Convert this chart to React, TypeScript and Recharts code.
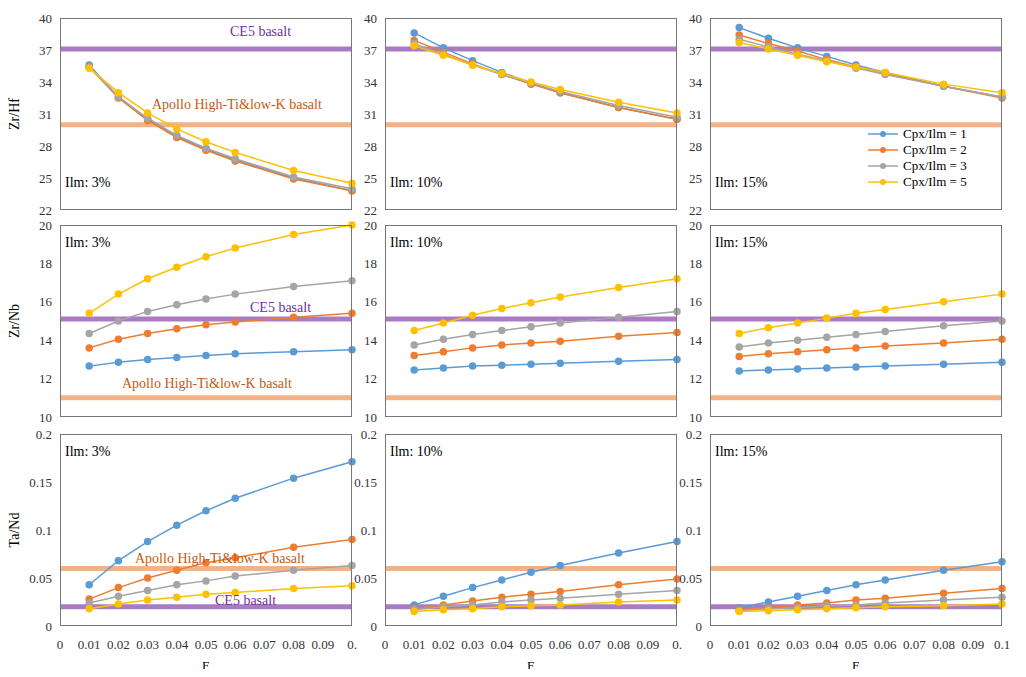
import { LineChart, Line, XAxis, YAxis, ReferenceLine } from "recharts";

const F = [0.01, 0.02, 0.03, 0.04, 0.05, 0.06, 0.08, 0.1];
const seriesNames = ["Cpx/Ilm = 1", "Cpx/Ilm = 2", "Cpx/Ilm = 3", "Cpx/Ilm = 5"];
const colors = ["#5b9bd5", "#ed7d31", "#a5a5a5", "#ffc000"];
const ilmLabels = ["Ilm: 3%", "Ilm: 10%", "Ilm: 15%"];
const xTicks = [0, 0.01, 0.02, 0.03, 0.04, 0.05, 0.06, 0.07, 0.08, 0.09, 0.1];

// Zr/Hf
const zrHf3 = [
  [35.6, 32.6, 30.5, 28.9, 27.7, 26.7, 25.0, 23.8],
  [35.4, 32.5, 30.4, 28.8, 27.6, 26.6, 24.9, 23.8],
  [35.4, 32.6, 30.6, 29.0, 27.8, 26.8, 25.1, 24.0],
  [35.3, 33.0, 31.1, 29.6, 28.4, 27.4, 25.7, 24.5],
];
const zrHf10 = [
  [38.6, 37.2, 36.0, 34.9, 33.9, 33.0, 31.6, 30.5],
  [37.9, 36.8, 35.7, 34.7, 33.8, 33.0, 31.6, 30.5],
  [37.6, 36.6, 35.6, 34.7, 33.9, 33.1, 31.8, 30.7],
  [37.4, 36.5, 35.6, 34.8, 34.0, 33.3, 32.1, 31.1],
];
const zrHf15 = [
  [39.1, 38.1, 37.2, 36.4, 35.6, 34.9, 33.6, 32.6],
  [38.4, 37.6, 36.9, 36.1, 35.4, 34.8, 33.6, 32.5],
  [38.0, 37.3, 36.6, 36.0, 35.3, 34.7, 33.6, 32.6],
  [37.7, 37.1, 36.5, 35.9, 35.4, 34.9, 33.8, 33.0],
];
// Zr/Nb
const zrNb3 = [
  [12.65, 12.85, 13.0, 13.1, 13.2, 13.3, 13.4, 13.5],
  [13.6, 14.05, 14.35, 14.6, 14.8, 14.95, 15.2, 15.4],
  [14.35, 15.0, 15.5, 15.85, 16.15, 16.4, 16.8, 17.1],
  [15.4, 16.4, 17.2, 17.8, 18.35, 18.8, 19.5, 20.0],
];
const zrNb10 = [
  [12.45, 12.55, 12.65, 12.7, 12.75, 12.8, 12.9, 13.0],
  [13.2, 13.4, 13.6, 13.75, 13.85, 13.95, 14.2, 14.4],
  [13.75, 14.05, 14.3, 14.5, 14.7, 14.9, 15.2, 15.5],
  [14.5, 14.9, 15.3, 15.65, 15.95, 16.25, 16.75, 17.2],
];
const zrNb15 = [
  [12.4, 12.45, 12.5, 12.55, 12.6, 12.65, 12.75, 12.85],
  [13.15, 13.3, 13.4, 13.5, 13.6, 13.7, 13.85, 14.05],
  [13.65, 13.85, 14.0, 14.15, 14.3, 14.45, 14.75, 15.0],
  [14.35, 14.65, 14.9, 15.15, 15.4, 15.6, 16.0, 16.4],
];
// Ta/Nd
const taNd3 = [
  [0.043, 0.068, 0.088, 0.105, 0.12, 0.133, 0.154, 0.171],
  [0.028, 0.04, 0.05, 0.058, 0.066, 0.071, 0.082, 0.09],
  [0.024, 0.031, 0.037, 0.043, 0.047, 0.052, 0.058, 0.063],
  [0.018, 0.023, 0.027, 0.03, 0.033, 0.035, 0.039, 0.042],
];
const taNd10 = [
  [0.022, 0.031, 0.04, 0.048, 0.056, 0.063, 0.076, 0.088],
  [0.018, 0.022, 0.026, 0.03, 0.033, 0.036, 0.043, 0.049],
  [0.017, 0.02, 0.022, 0.025, 0.027, 0.029, 0.033, 0.037],
  [0.015, 0.017, 0.018, 0.02, 0.021, 0.022, 0.025, 0.027],
];
const taNd15 = [
  [0.019, 0.025, 0.031, 0.037, 0.043, 0.048, 0.058, 0.067],
  [0.017, 0.019, 0.022, 0.024, 0.027, 0.029, 0.034, 0.039],
  [0.016, 0.018, 0.019, 0.021, 0.022, 0.024, 0.027, 0.03],
  [0.015, 0.016, 0.017, 0.018, 0.019, 0.02, 0.021, 0.023],
];

const rows = [
  { name: "Zr/Hf", domain: [22, 40], ticks: [22, 25, 28, 31, 34, 37, 40], ce5: 37.1, apollo: 30, data: [zrHf3, zrHf10, zrHf15] },
  { name: "Zr/Nb", domain: [10, 20], ticks: [10, 12, 14, 16, 18, 20], ce5: 15.1, apollo: 11, data: [zrNb3, zrNb10, zrNb15] },
  { name: "Ta/Nd", domain: [0, 0.2], ticks: [0, 0.05, 0.1, 0.15, 0.2], ce5: 0.02, apollo: 0.06, data: [taNd3, taNd10, taNd15] },
];

const colLeft = [60, 385, 710];
const rowTop = [18, 225, 434];
const PW = 292;
const PH = 192;
const YW = 40;
const font = "'Liberation Serif', 'DejaVu Serif', serif";

function table(series: number[][]) {
  return F.map((f, i) => {
    const row: Record<string, number> = { F: f };
    series.forEach((s, k) => (row["s" + k] = s[i]));
    return row;
  });
}

const txt = (left: number, top: number, s: string, color = "#000", size = 14) => (
  <div key={s + left + top} style={{ position: "absolute", left, top, color, fontSize: size, fontFamily: font, whiteSpace: "nowrap" }}>{s}</div>
);

export default function App() {
  const panels: any[] = [];
  const overlays: any[] = [];
  rows.forEach((r, ri) => {
    r.data.forEach((series, ci) => {
      const bottom = ri === 2;
      const left = colLeft[ci];
      const top = rowTop[ri];
      panels.push(
        <div key={ri + "-" + ci} style={{ position: "absolute", left: left - YW, top: top - 5 }}>
          <LineChart width={PW + YW + 10} height={PH + 10 + (bottom ? 30 : 0)} data={table(series)}
            margin={{ top: 5, right: 10, left: 0, bottom: 5 }} style={{ fontFamily: font }}>
            <XAxis dataKey="F" type="number" domain={[0, 0.1]} ticks={xTicks} interval={0} hide={!bottom} height={bottom ? 30 : 0}
              axisLine={false} tickLine={false}
              tick={{ fontSize: 13, fill: "#333", fontFamily: font, dy: 6 }}
              tickFormatter={(v: number) => (v === 0.1 && ci < 2 ? "0." : String(v))} />
            <YAxis type="number" domain={r.domain} ticks={r.ticks} interval={0} width={YW} axisLine={false} tickLine={false}
              tick={{ fontSize: 13, fill: "#333", fontFamily: font }} />
            <ReferenceLine y={r.ce5} stroke="#9e6dbd" strokeWidth={5} strokeOpacity={0.9} />
            <ReferenceLine y={r.apollo} stroke="#f4b183" strokeWidth={5} />
            {series.map((_, k) => (
              <Line key={k} dataKey={"s" + k} stroke={colors[k]} strokeWidth={1.5} isAnimationActive={false}
                dot={{ r: 3, fill: colors[k], stroke: colors[k] }} />
            ))}
          </LineChart>
        </div>
      );
      overlays.push(
        <div key={"b" + ri + ci} style={{ position: "absolute", left, top, width: PW, height: PH, border: "1px solid #777", boxSizing: "border-box", pointerEvents: "none" }} />
      );
      overlays.push(txt(left + 5, ri === 0 ? top + 157 : top + 10, ilmLabels[ci]));
      if (bottom) overlays.push(txt(left + PW / 2 - 4, top + PH + 32, "F", "#000", 13));
    });
    overlays.push(
      <div key={"yl" + ri} style={{ position: "absolute", left: 4, top: rowTop[ri] + PH / 2 - 8, transform: "rotate(-90deg)", fontSize: 14, fontFamily: font, width: 50, textAlign: "center", marginLeft: -14 }}>{r.name}</div>
    );
  });

  overlays.push(txt(230, 24, "CE5 basalt", "#7030a0"));
  overlays.push(txt(152, 97, "Apollo High-Ti&low-K basalt", "#c55a11"));
  overlays.push(txt(250, 300, "CE5 basalt", "#7030a0"));
  overlays.push(txt(122, 376, "Apollo High-Ti&low-K basalt", "#c55a11"));
  overlays.push(txt(135, 551, "Apollo High-Ti&low-K basalt", "#c55a11"));
  overlays.push(txt(215, 593, "CE5 basalt", "#7030a0"));

  overlays.push(
    <div key="legend" style={{ position: "absolute", left: 868, top: 126, fontFamily: font, fontSize: 13 }}>
      {seriesNames.map((n, k) => (
        <div key={n} style={{ display: "flex", alignItems: "center", height: 16 }}>
          <svg width={30} height={10}><line x1={0} y1={5} x2={30} y2={5} stroke={colors[k]} strokeWidth={1.5} /><circle cx={15} cy={5} r={3} fill={colors[k]} /></svg>
          <span style={{ marginLeft: 5 }}>{n}</span>
        </div>
      ))}
    </div>
  );

  return (
    <div style={{ position: "relative", width: 1026, height: 677, margin: -8, background: "#fff" }}>
      {panels}
      {overlays}
    </div>
  );
}
